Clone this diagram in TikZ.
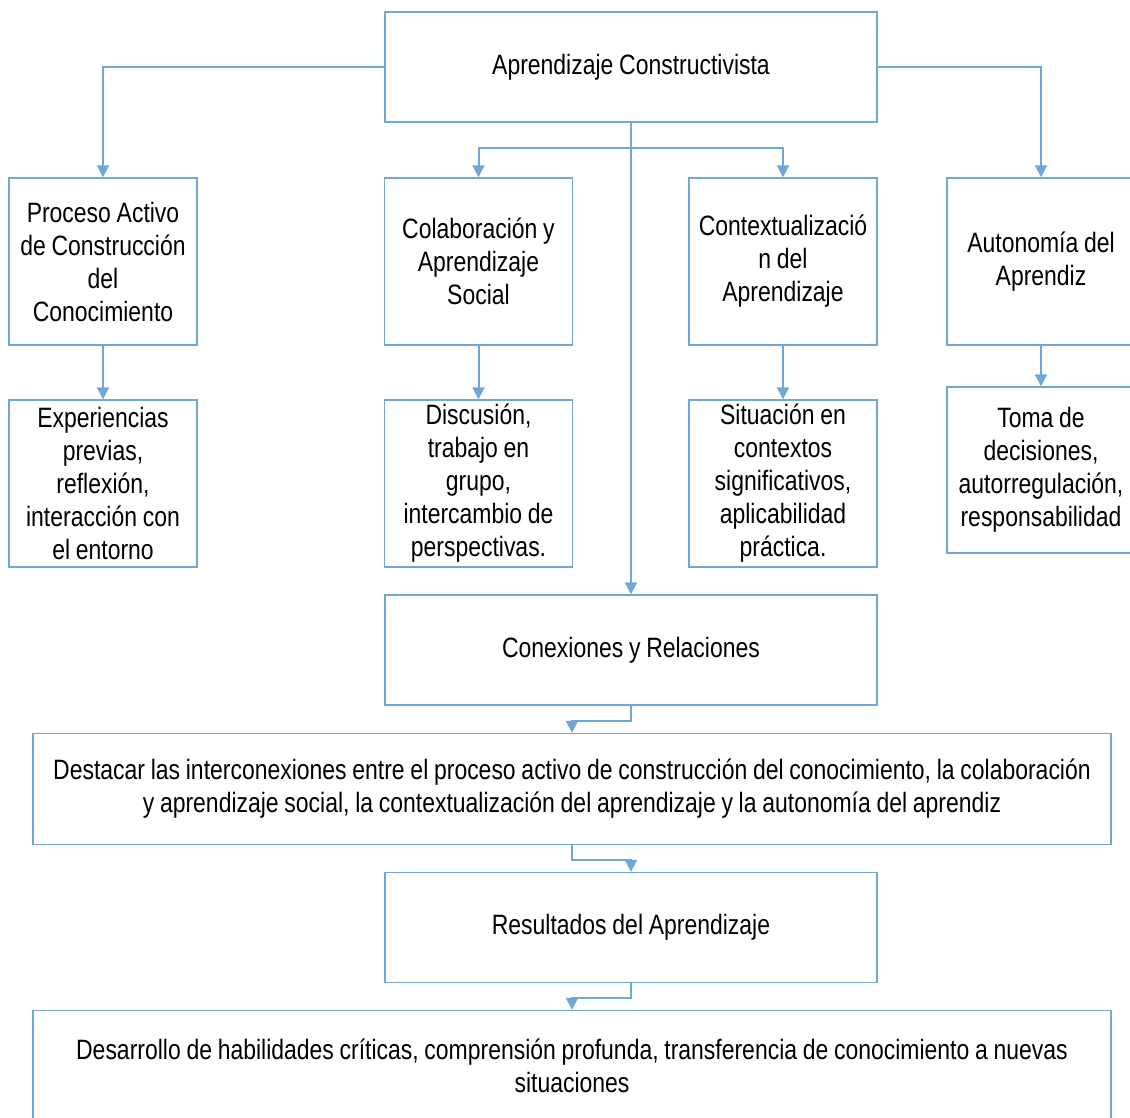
\documentclass[tikz,border=0pt]{standalone}
\usepackage{fontspec}
\setmainfont{Liberation Sans}[FakeStretch=0.82, WordSpace=0.9]
\usetikzlibrary{arrows.meta}
\definecolor{boxblue}{RGB}{112,166,216}

\begin{document}
\begin{tikzpicture}[x=1pt, y=-1pt,
	every node/.style={font=\fontsize{28}{33}\selectfont, inner sep=0pt},
	widebox/.style={draw=boxblue, line width=1.4pt, align=center,
	minimum width=492pt, minimum height=110pt},
	smallbox/.style={draw=boxblue, line width=1.4pt, align=center,
	minimum width=188pt, minimum height=167pt},
	longbox/.style={draw=boxblue, line width=1.4pt, align=center,
	minimum width=1078pt, minimum height=111pt},
	link/.style={draw=boxblue, line width=2pt, -{Triangle[width=12pt,length=12pt]}}]
			\useasboundingbox (0,0) rectangle (1130,1117);

			\node [widebox] (aprend) at (631,67) {Aprendizaje Constructivista};

			\node [smallbox] (proceso) at (103,261.5) {Proceso Activo\\de Construcción\\del\\Conocimiento};
			\node [smallbox] (colab) at (478.5,261.5) {Colaboración y\\Aprendizaje\\Social};
			\node [smallbox] (context) at (783,261.5) {Contextualizació\\n del\\Aprendizaje};
			\node [smallbox] (autonom) at (1041,261.5) {Autonomía del\\Aprendiz};

			\node [smallbox] (experien) at (103,483.5) {Experiencias\\previas,\\reflexión,\\interacción con\\el entorno};
			\node [smallbox] (discus) at (478.5,483.5) {Discusión,\\trabajo en\\grupo,\\intercambio de\\perspectivas.};
			\node [smallbox] (situac) at (783,483.5) {Situación en\\contextos\\significativos,\\aplicabilidad\\práctica.};
			\node [smallbox, minimum height=166pt] (toma) at (1041,470) {Toma de\\decisiones,\\autorregulación,\\responsabilidad};

			\node [widebox] (conex) at (631,650) {Conexiones y Relaciones};
			\node [longbox] (destacar) at (572,789) {Destacar las interconexiones entre el proceso activo de construcción del conocimiento, la colaboración\\y aprendizaje social, la contextualización del aprendizaje y la autonomía del aprendiz};
			\node [widebox] (result) at (631,927.5) {Resultados del Aprendizaje};
			\node [longbox] (desarr) at (572,1066) {Desarrollo de habilidades críticas, comprensión profunda, transferencia de conocimiento a nuevas\\situaciones};

			\coordinate (split) at (631,148);

			\draw [link] (aprend.west) -| (proceso.north);
			\draw [link] (aprend.east) -| (autonom.north);
			\draw [link] (aprend.south) -- (conex.north);
			\draw [link] (split) -| (colab.north);
			\draw [link] (split) -| (context.north);
			\foreach \from/\to in {proceso/experien, colab/discus, context/situac, autonom/toma}
				\draw [link] (\from.south) -- (\to.north);

			\draw [link] (conex.south) -- ++(0,15) -| (destacar.north);
			\draw [link] (destacar.south) -- ++(0,15) -| (result.north);
			\draw [link] (result.south) -- ++(0,15) -| (desarr.north);
		\end{tikzpicture}
\end{document}
